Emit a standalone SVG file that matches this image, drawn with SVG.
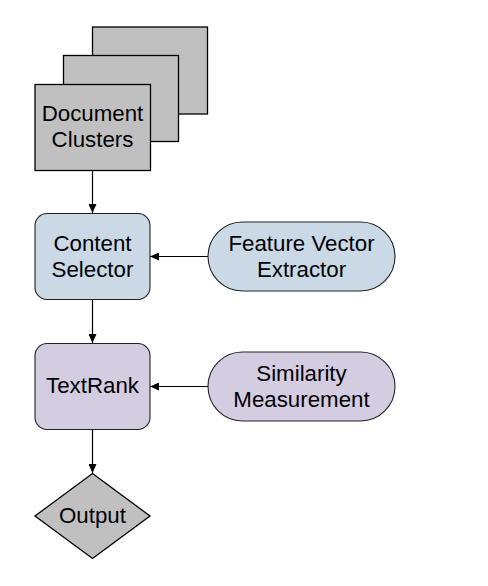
<svg xmlns="http://www.w3.org/2000/svg" width="488" height="586" viewBox="0 0 488 586">
<defs>
<style>
.t{font-family:"Liberation Sans",Arial,sans-serif;font-size:22.3px;fill:#000;text-anchor:middle}
.g{fill:#C0C0C0;stroke:#000;stroke-width:1.3}
.b{fill:#CBD8E6;stroke:#222;stroke-width:1.1}
.p{fill:#D4CCE0;stroke:#222;stroke-width:1.1}
.c{stroke:#000;stroke-width:1.2;fill:none;marker-end:url(#ah)}
</style>
<marker id="ah" markerWidth="10" markerHeight="8" refX="9" refY="4" orient="auto" markerUnits="userSpaceOnUse">
<path d="M0,0 L9,4 L0,8 Z" fill="#000"/>
</marker>
</defs>
<rect width="488" height="586" fill="#fff"/>
<g id="connectors">
<line class="c" x1="92.5" y1="171" x2="92.5" y2="213"/>
<line class="c" x1="208" y1="256.5" x2="150" y2="256.5"/>
<line class="c" x1="92.5" y1="299" x2="92.5" y2="343"/>
<line class="c" x1="208" y1="386.5" x2="150" y2="386.5"/>
<line class="c" x1="92.5" y1="429" x2="92.5" y2="473"/>
</g>
<g id="document-clusters">
<rect class="g" x="92.5" y="27" width="115" height="87"/>
<rect class="g" x="63.5" y="55.5" width="115" height="86"/>
<rect class="g" x="35" y="84.5" width="115.5" height="86"/>
<text class="t" x="92.5" y="120.5">Document</text>
<text class="t" x="92.5" y="147">Clusters</text>
</g>
<g id="content-selector">
<rect class="b" x="35" y="213.5" width="115" height="86" rx="12"/>
<text class="t" x="92.5" y="250.5">Content</text>
<text class="t" x="92.5" y="277">Selector</text>
</g>
<g id="feature-vector-extractor">
<rect class="b" x="208" y="222" width="187" height="69" rx="34.5"/>
<text class="t" x="301.5" y="250.5">Feature Vector</text>
<text class="t" x="301.5" y="277">Extractor</text>
</g>
<g id="textrank">
<rect class="p" x="35" y="343.5" width="115" height="86" rx="12"/>
<text class="t" x="92.5" y="393">TextRank</text>
</g>
<g id="similarity-measurement">
<rect class="p" x="208" y="352" width="187" height="69" rx="34.5"/>
<text class="t" x="301.5" y="380.5">Similarity</text>
<text class="t" x="301.5" y="407">Measurement</text>
</g>
<g id="output">
<polygon class="g" points="92.5,473.5 150,516 92.5,558.5 35,516"/>
<text class="t" x="92.5" y="522.5">Output</text>
</g>
</svg>
